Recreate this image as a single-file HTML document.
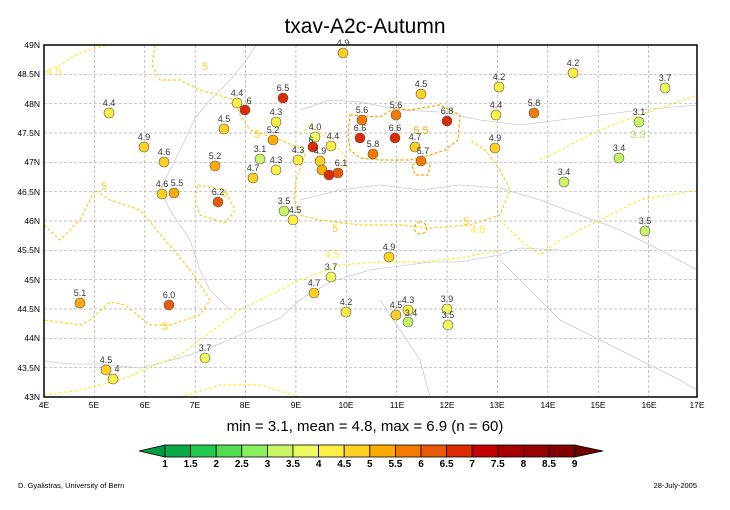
<!DOCTYPE html>
<html><head><meta charset="utf-8"><style>
body{margin:0;background:#fff;}
svg{display:block;font-family:"Liberation Sans",sans-serif;}
</style></head><body>
<svg width="730" height="510" viewBox="0 0 730 510" xmlns="http://www.w3.org/2000/svg">
<rect width="730" height="510" fill="#fff"/>
<text x="365" y="33" font-size="21" text-anchor="middle" fill="#000">txav-A2c-Autumn</text>
<g stroke="#aaa" stroke-width="0.7" stroke-dasharray="3,2">
<line x1="94.4" y1="45" x2="94.4" y2="397"/><line x1="144.8" y1="45" x2="144.8" y2="397"/><line x1="195.2" y1="45" x2="195.2" y2="397"/><line x1="245.5" y1="45" x2="245.5" y2="397"/><line x1="295.9" y1="45" x2="295.9" y2="397"/><line x1="346.3" y1="45" x2="346.3" y2="397"/><line x1="396.7" y1="45" x2="396.7" y2="397"/><line x1="447.1" y1="45" x2="447.1" y2="397"/><line x1="497.5" y1="45" x2="497.5" y2="397"/><line x1="547.8" y1="45" x2="547.8" y2="397"/><line x1="598.2" y1="45" x2="598.2" y2="397"/><line x1="648.6" y1="45" x2="648.6" y2="397"/>
<line x1="44" y1="74.3" x2="697" y2="74.3"/><line x1="44" y1="103.7" x2="697" y2="103.7"/><line x1="44" y1="133" x2="697" y2="133"/><line x1="44" y1="162.3" x2="697" y2="162.3"/><line x1="44" y1="191.7" x2="697" y2="191.7"/><line x1="44" y1="221" x2="697" y2="221"/><line x1="44" y1="250.3" x2="697" y2="250.3"/><line x1="44" y1="279.7" x2="697" y2="279.7"/><line x1="44" y1="309" x2="697" y2="309"/><line x1="44" y1="338.3" x2="697" y2="338.3"/><line x1="44" y1="367.7" x2="697" y2="367.7"/>
</g>
<g fill="none" stroke="#ccc" stroke-width="0.8">
<path d="M44,361 L70,364 L100,364 L140,368 L180,358 L210,348 L240,335 L280,318 L300,300 L330,282 L370,270 L400,266 L430,262 L460,262 L500,255 L520,248 L560,250"/>
<path d="M256,45 L245,62 L230,80 L210,100 L195,118 L185,140 L175,160 L160,190 L170,210 L190,240 L200,270 L210,290 L230,310"/>
<path d="M300,110 L330,100 L360,102 L400,110 L440,112 L480,120 L520,125 L560,120 L600,115 L640,110 L697,105"/>
<path d="M300,200 L340,190 L380,185 L420,190 L460,185 L500,188 L540,200 L580,215 L620,230 L660,250 L697,270"/>
<path d="M500,260 L520,280 L540,300 L560,320 L600,340 L640,360 L680,380 L697,390"/>
<path d="M380,300 L400,330 L420,360 L430,397"/>
</g>
<g fill="none" stroke-width="1.2" stroke-dasharray="3,2">
<path stroke="#ffe840" d="M44,72 L60,65 L75,55 L95,48 L110,45"/>
<path stroke="#ffcc20" d="M155,45 L152,65 L160,80 L180,80 L200,90 L235,100 L240,115 L250,130 L280,140 L300,148 L305,155 L296,180 L294,200 L300,215 L320,220 L360,225 L400,225 L430,228 L470,225 L500,215 L510,190 L500,170 L485,150 L470,140"/>
<path stroke="#ffcc20" d="M44,225 L60,240 L80,220 L95,190 L110,200 L140,210 L165,240 L190,270 L210,300 L200,315 L170,325 L150,325 L125,305 L110,302 L90,320 L80,325 L44,320"/>
<path stroke="#ffcc20" d="M198,185 L225,190 L235,210 L225,223 L200,215 L195,200 Z"/>
<path stroke="#ffe840" d="M44,395 L80,390 L120,380 L180,355 L200,340 L240,310 L260,300 L300,280 L340,265 L380,262 L420,262 L460,258 L500,250"/>
<path stroke="#ffe840" d="M300,135 L310,125 L330,140 L345,155 L340,175"/>
<path stroke="#ffa000" d="M350,115 L380,117 L395,108 L410,110 L440,105 L460,115 L458,140 L445,150 L430,155 L410,160 L395,160 L380,160 L360,158 L350,150 L348,135 Z"/>
<path stroke="#ffa000" d="M412,165 L420,160 L430,165 L428,175 L415,175 Z"/>
<path stroke="#ffa000" d="M420,222 a6,6 0 1 0 1,0"/>
<path stroke="#ffe840" d="M540,160 L560,150 L600,130 L640,115 L697,95"/>
<path stroke="#ffe840" d="M500,220 L520,240 L540,255 L560,240 L600,220 L640,200 L697,190"/>
<path stroke="#ffe840" d="M180,397 L220,385 L260,385 L300,397"/>
</g>
<g font-size="11" fill="#ffcc20" text-anchor="middle">
<text x="205" y="70">5</text><text x="257" y="138">5</text><text x="104" y="190">5</text><text x="225" y="197">5</text><text x="165" y="330">5</text><text x="335" y="232">5</text><text x="466" y="225">5</text><text x="54" y="75" fill="#ffe840">4.5</text><text x="332" y="258" fill="#ffe840">4.5</text><text x="478" y="233" fill="#ffe840">4.5</text><text x="421" y="134" fill="#ffa000">5.5</text><text x="638" y="138" fill="#aee060">3.3</text>
</g>
<rect x="44" y="45" width="653" height="352" fill="none" stroke="#000" stroke-width="1.5"/>
<g font-size="8.5" fill="#000" text-anchor="end">
<text x="40" y="48">49N</text><text x="40" y="77">48.5N</text><text x="40" y="107">48N</text><text x="40" y="136">47.5N</text><text x="40" y="165">47N</text><text x="40" y="195">46.5N</text><text x="40" y="224">46N</text><text x="40" y="253">45.5N</text><text x="40" y="283">45N</text><text x="40" y="312">44.5N</text><text x="40" y="341">44N</text><text x="40" y="371">43.5N</text><text x="40" y="400">43N</text>
</g>
<g font-size="8.5" fill="#000" text-anchor="middle">
<text x="44" y="408">4E</text><text x="94" y="408">5E</text><text x="145" y="408">6E</text><text x="195" y="408">7E</text><text x="245" y="408">8E</text><text x="296" y="408">9E</text><text x="346" y="408">10E</text><text x="397" y="408">11E</text><text x="447" y="408">12E</text><text x="497" y="408">13E</text><text x="548" y="408">14E</text><text x="598" y="408">15E</text><text x="649" y="408">16E</text><text x="697" y="408">17E</text>
</g>
<g stroke="#555" stroke-width="0.6" id="pts">
<circle cx="573" cy="73" r="5" fill="#ffee44"/><circle cx="343" cy="53" r="5" fill="#ffd020"/><circle cx="499" cy="87" r="5" fill="#ffee44"/><circle cx="665" cy="88" r="5" fill="#eefa60"/>
<circle cx="109" cy="113" r="5" fill="#ffee44"/><circle cx="237" cy="103" r="5" fill="#ffee44"/><circle cx="245" cy="110" r="5" fill="#dd2a00"/><circle cx="283" cy="98" r="5" fill="#dd2a00"/><circle cx="421" cy="94" r="5" fill="#ffd020"/><circle cx="639" cy="122" r="5" fill="#c8f466"/>
<circle cx="224" cy="129" r="5" fill="#ffd020"/><circle cx="276" cy="122" r="5" fill="#ffee44"/><circle cx="362" cy="120" r="5" fill="#f57a00"/><circle cx="396" cy="115" r="5" fill="#f57a00"/><circle cx="447" cy="121" r="5" fill="#dd2a00"/><circle cx="496" cy="115" r="5" fill="#ffee44"/><circle cx="534" cy="113" r="5" fill="#f57a00"/>
<circle cx="144" cy="147" r="5" fill="#ffd020"/><circle cx="273" cy="140" r="5" fill="#ffaa00"/><circle cx="315" cy="137" r="5" fill="#eefa60"/><circle cx="313" cy="147" r="5" fill="#dd2a00"/><circle cx="331" cy="146" r="5" fill="#ffee44"/><circle cx="360" cy="138" r="5" fill="#dd2a00"/><circle cx="395" cy="138" r="5" fill="#dd2a00"/><circle cx="415" cy="147" r="5" fill="#ffd020"/>
<circle cx="164" cy="162" r="5" fill="#ffd020"/><circle cx="215" cy="166" r="5" fill="#ffaa00"/><circle cx="260" cy="159" r="5" fill="#c8f466"/><circle cx="298" cy="160" r="5" fill="#ffee44"/><circle cx="320" cy="161" r="5" fill="#ffd020"/><circle cx="322" cy="170" r="5" fill="#ffaa00"/><circle cx="338" cy="173" r="5" fill="#e85a08"/><circle cx="329" cy="175" r="5" fill="#dd2a00"/><circle cx="373" cy="154" r="5" fill="#f57a00"/><circle cx="421" cy="161" r="5" fill="#f57a00"/><circle cx="495" cy="148" r="5" fill="#ffd020"/><circle cx="619" cy="158" r="5" fill="#c8f466"/>
<circle cx="253" cy="178" r="5" fill="#ffd020"/><circle cx="276" cy="170" r="5" fill="#ffee44"/><circle cx="564" cy="182" r="5" fill="#c8f466"/>
<circle cx="162" cy="194" r="5" fill="#ffd020"/><circle cx="174" cy="193" r="5" fill="#ffaa00"/><circle cx="218" cy="202" r="5" fill="#e85a08"/><circle cx="284" cy="211" r="5" fill="#c8f466"/><circle cx="293" cy="220" r="5" fill="#ffee44"/><circle cx="645" cy="231" r="5" fill="#c8f466"/>
<circle cx="389" cy="257" r="5" fill="#ffd020"/><circle cx="331" cy="277" r="5" fill="#eefa60"/><circle cx="314" cy="293" r="5" fill="#ffd020"/><circle cx="346" cy="312" r="5" fill="#ffee44"/><circle cx="396" cy="315" r="5" fill="#ffd020"/><circle cx="408" cy="310" r="5" fill="#ffee44"/><circle cx="408" cy="322" r="5" fill="#c8f466"/><circle cx="447" cy="309" r="5" fill="#eefa60"/><circle cx="448" cy="325" r="5" fill="#eefa60"/>
<circle cx="80" cy="303" r="5" fill="#ffaa00"/><circle cx="169" cy="305" r="5" fill="#e85a08"/><circle cx="205" cy="358" r="5" fill="#eefa60"/><circle cx="106" cy="370" r="5" fill="#ffd020"/><circle cx="113" cy="379" r="5" fill="#ffee44"/>
</g>
<g font-size="9" fill="#333" text-anchor="middle">
<text x="573" y="66">4.2</text><text x="343" y="46">4.9</text><text x="499" y="80">4.2</text><text x="665" y="81">3.7</text>
<text x="109" y="106">4.4</text><text x="237" y="96">4.4</text><text x="249" y="104">6</text><text x="283" y="91">6.5</text><text x="421" y="87">4.5</text><text x="639" y="115">3.1</text>
<text x="224" y="122">4.5</text><text x="276" y="115">4.3</text><text x="362" y="113">5.6</text><text x="396" y="108">5.6</text><text x="447" y="114">6.8</text><text x="496" y="108">4.4</text><text x="534" y="106">5.8</text>
<text x="144" y="140">4.9</text><text x="273" y="133">5.2</text><text x="315" y="130">4.0</text><text x="311" y="143">6</text><text x="333" y="139">4.4</text><text x="360" y="131">6.6</text><text x="395" y="131">6.6</text><text x="415" y="140">4.7</text>
<text x="164" y="155">4.6</text><text x="215" y="159">5.2</text><text x="260" y="152">3.1</text><text x="298" y="153">4.3</text><text x="320" y="154">4.9</text><text x="341" y="166">6.1</text><text x="373" y="147">5.8</text><text x="423" y="154">5.7</text><text x="495" y="141">4.9</text><text x="619" y="151">3.4</text>
<text x="253" y="171">4.7</text><text x="276" y="163">4.3</text><text x="564" y="175">3.4</text>
<text x="162" y="187">4.6</text><text x="177" y="186">5.5</text><text x="218" y="195">6.2</text><text x="284" y="204">3.5</text><text x="295" y="213">4.5</text><text x="645" y="224">3.5</text>
<text x="389" y="250">4.9</text><text x="331" y="270">3.7</text><text x="314" y="286">4.7</text><text x="346" y="305">4.2</text><text x="396" y="308">4.5</text><text x="408" y="303">4.3</text><text x="411" y="316">3.4</text><text x="447" y="302">3.9</text><text x="448" y="318">3.5</text>
<text x="80" y="296">5.1</text><text x="169" y="298">6.0</text><text x="205" y="351">3.7</text><text x="106" y="363">4.5</text><text x="117" y="372">4</text>
</g>
<text x="365" y="431" font-size="15" text-anchor="middle" fill="#000">min = 3.1, mean = 4.8, max = 6.9 (n = 60)</text>
<g stroke="#000" stroke-width="0.8">
<polygon points="139,451 165,445 165,457" fill="#009944"/>
<rect x="165" y="445" width="25.6" height="12" fill="#0aa846"/><rect x="190.6" y="445" width="25.6" height="12" fill="#22c94f"/><rect x="216.2" y="445" width="25.6" height="12" fill="#50dd55"/><rect x="241.8" y="445" width="25.6" height="12" fill="#8cef60"/><rect x="267.4" y="445" width="25.6" height="12" fill="#c8f466"/><rect x="293" y="445" width="25.6" height="12" fill="#eefa60"/><rect x="318.6" y="445" width="25.6" height="12" fill="#ffee44"/><rect x="344.2" y="445" width="25.6" height="12" fill="#ffd020"/><rect x="369.8" y="445" width="25.6" height="12" fill="#ffaa00"/><rect x="395.4" y="445" width="25.6" height="12" fill="#f57a00"/><rect x="421" y="445" width="25.6" height="12" fill="#e85a08"/><rect x="446.6" y="445" width="25.6" height="12" fill="#dd2a00"/><rect x="472.2" y="445" width="25.6" height="12" fill="#c40000"/><rect x="497.8" y="445" width="25.6" height="12" fill="#a80000"/><rect x="523.4" y="445" width="25.6" height="12" fill="#960000"/><rect x="549" y="445" width="25.6" height="12" fill="#820000"/>
<polygon points="574.6,445 603,451 574.6,457" fill="#6e0000"/>
</g>
<g font-size="10" font-weight="bold" fill="#000" text-anchor="middle">
<text x="165" y="467">1</text><text x="190.6" y="467">1.5</text><text x="216.2" y="467">2</text><text x="241.8" y="467">2.5</text><text x="267.4" y="467">3</text><text x="293" y="467">3.5</text><text x="318.6" y="467">4</text><text x="344.2" y="467">4.5</text><text x="369.8" y="467">5</text><text x="395.4" y="467">5.5</text><text x="421" y="467">6</text><text x="446.6" y="467">6.5</text><text x="472.2" y="467">7</text><text x="497.8" y="467">7.5</text><text x="523.4" y="467">8</text><text x="549" y="467">8.5</text><text x="574.6" y="467">9</text>
</g>
<text x="18" y="488" font-size="7.5" fill="#000">D. Gyalistras, University of Bern</text>
<text x="697" y="488" font-size="7.5" fill="#000" text-anchor="end">28-July-2005</text>
</svg>
</body></html>
